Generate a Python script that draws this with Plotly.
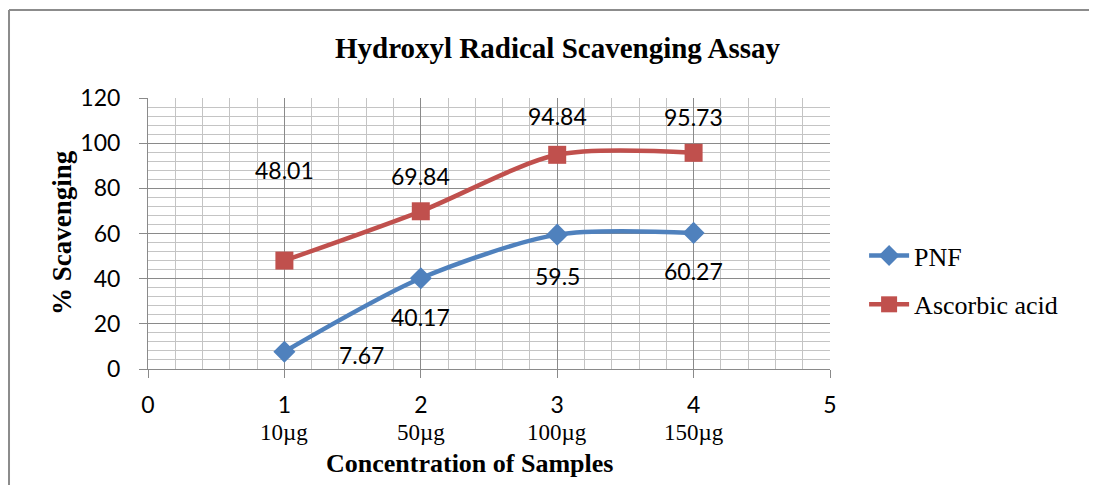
import plotly.graph_objects as go

x_vals = [1, 2, 3, 4]
conc_labels = ["10µg", "50µg", "100µg", "150µg"]
pnf = [7.67, 40.17, 59.5, 60.27]
ascorbic = [48.01, 69.84, 94.84, 95.73]
pnf_label_text = ["7.67", "40.17", "59.5", "60.27"]
asc_label_text = ["48.01", "69.84", "94.84", "95.73"]

BLUE = "#4F81BD"
RED = "#C0504D"
SERIF = "Liberation Serif"
SANS = "Lato"

fig = go.Figure()
fig.add_trace(go.Scatter(x=x_vals, y=pnf, name="PNF", mode="lines+markers", legendgroup="a",
                         line=dict(color=BLUE, width=4.5, shape="spline", smoothing=0.8),
                         marker=dict(symbol="diamond", size=17, color=BLUE)))
fig.add_trace(go.Scatter(x=x_vals, y=ascorbic, name="Ascorbic acid", mode="lines+markers", legendgroup="b",
                         line=dict(color=RED, width=4.5, shape="spline", smoothing=0.8),
                         marker=dict(symbol="square", size=18, color=RED)))

# data labels (pixel offsets only)
asc_shift = [(0, 91), (0, 35), (0, 39), (0, 36)]
pnf_shift = [(77, -3), (0, -39), (0, -41), (0, -38)]
for xv, yv, t, (dx, dy) in zip(x_vals, ascorbic, asc_label_text, asc_shift):
    fig.add_annotation(x=xv, y=yv, text=t, showarrow=False, xshift=dx, yshift=dy,
                       font=dict(family=SANS, size=23, color="black"))
for xv, yv, t, (dx, dy) in zip(x_vals, pnf, pnf_label_text, pnf_shift):
    fig.add_annotation(x=xv, y=yv, text=t, showarrow=False, xshift=dx, yshift=dy,
                       font=dict(family=SANS, size=23, color="black"))

# concentration labels under x ticks
for xv, t in zip(x_vals, conc_labels):
    fig.add_annotation(x=xv, xref="x", y=-0.236, yref="paper", text=t, showarrow=False,
                       yanchor="middle", font=dict(family=SERIF, size=23, color="black"))

# titles
fig.add_annotation(x=0.601, y=1.1845, xref="paper", yref="paper", showarrow=False,
                   text="<b>Hydroxyl Radical Scavenging Assay</b>", yanchor="middle",
                   font=dict(family=SERIF, size=29, color="black"))
fig.add_annotation(x=0.472, y=-0.347, xref="paper", yref="paper", showarrow=False,
                   text="<b>Concentration of Samples</b>", yanchor="middle",
                   font=dict(family=SERIF, size=26, color="black"))
fig.add_annotation(x=-0.126, y=0.502, xref="paper", yref="paper", showarrow=False,
                   text="<b>% Scavenging</b>", textangle=-90, xanchor="center", yanchor="middle",
                   font=dict(family=SERIF, size=27, color="black"))

# outer border (top and left)
fig.add_shape(type="line", xref="paper", yref="paper", x0=-0.2038, x1=1.395, y0=1.3247, y1=1.3247,
              line=dict(color="#8c8c8c", width=2))
fig.add_shape(type="line", xref="paper", yref="paper", x0=-0.2038, x1=-0.2038, y0=1.3247, y1=-0.45,
              line=dict(color="#8c8c8c", width=2))

fig.update_xaxes(range=[0, 5], dtick=1, tick0=0, showgrid=True, gridcolor="#8a8a8a", gridwidth=1,
                 minor=dict(dtick=0.2, showgrid=True, gridcolor="#c4c4c4", gridwidth=1),
                 showline=True, linecolor="#8a8a8a", linewidth=1, ticks="outside", ticklen=8,
                 tickcolor="#8a8a8a", zeroline=False, ticklabelstandoff=7,
                 tickfont=dict(family=SANS, size=23, color="black"))
fig.update_yaxes(range=[0, 120], dtick=20, tick0=0, showgrid=True, gridcolor="#8a8a8a", gridwidth=1,
                 minor=dict(dtick=4, showgrid=True, gridcolor="#c4c4c4", gridwidth=1),
                 showline=True, linecolor="#8a8a8a", linewidth=1, ticks="outside", ticklen=8,
                 tickcolor="#8a8a8a", zeroline=False, ticklabelstandoff=14,
                 tickfont=dict(family=SANS, size=23, color="black"))

fig.update_layout(width=1089, height=477, plot_bgcolor="white", paper_bgcolor="white",
                  margin=dict(l=140, r=267, t=90, b=116, autoexpand=False),
                  legend=dict(x=1.05, y=0.328, xanchor="left", yanchor="middle",
                              font=dict(family=SERIF, size=26, color="black"),
                              bgcolor="rgba(0,0,0,0)", itemwidth=40,
                              traceorder="grouped", tracegroupgap=12),
                  showlegend=True)

fig.write_html("out.html")
